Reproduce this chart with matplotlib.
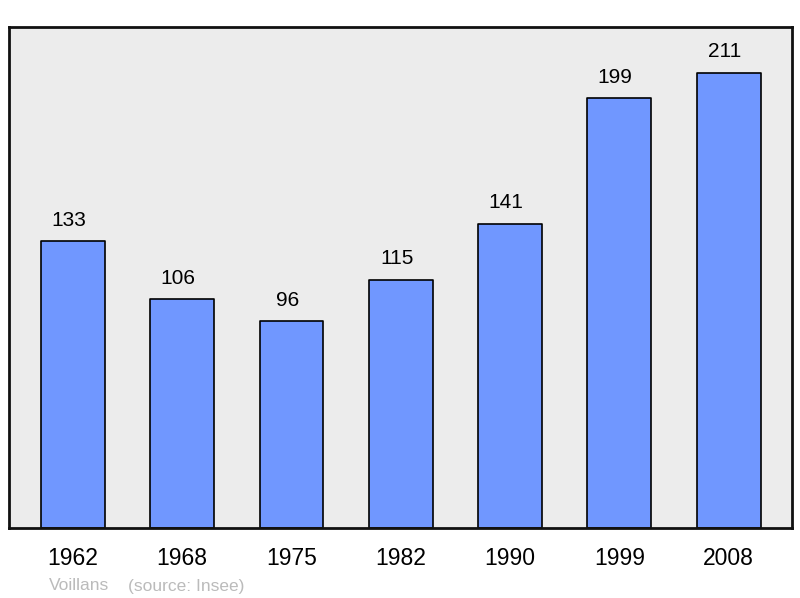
import matplotlib
matplotlib.use("Agg")
import matplotlib.pyplot as plt

years = ["1962", "1968", "1975", "1982", "1990", "1999", "2008"]
population = [133, 106, 96, 115, 141, 199, 211]
commune = "Voillans"
source = "(source: Insee)"

plt.rcParams['font.family'] = ['Liberation Sans', 'DejaVu Sans']

fig = plt.figure(figsize=(8, 5.98), dpi=100)
ax = fig.add_axes([9 / 800, 1 - 528 / 598, 783 / 800, 501 / 598])
ax.set_facecolor('#ececec')

x = range(len(years))
bars = ax.bar(x, population, width=0.585, color='#7097ff', edgecolor='black',
              linewidth=1.2)
for b in bars:
    b.set_joinstyle('round')

# value labels sit a little left of the bar centre, like the original
for xi, v in zip(x, population):
    ax.annotate(str(v), (xi, v), xytext=(-3, 11), textcoords='offset points',
                ha='center', va='baseline', fontsize=15)

ax.set_xlim(-0.585, len(years) - 1 + 0.58)
ax.set_ylim(0, max(population) * 1.1)
ax.set_xticks(list(x))
ax.set_xticklabels(years, fontsize=16.5)
ax.tick_params(axis='x', length=0, pad=14)
ax.set_yticks([])
for s in ax.spines.values():
    s.set_linewidth(2)
    s.set_color('#111111')

fig.text(49 / 800, 1 - 586 / 598, commune, color='#bbbbbb', fontsize=12.5,
         va='center', ha='left')
fig.text(128 / 800, 1 - 586 / 598, source, color='#bbbbbb', fontsize=12.5,
         va='center', ha='left')

fig.savefig('out.png', dpi=100)
